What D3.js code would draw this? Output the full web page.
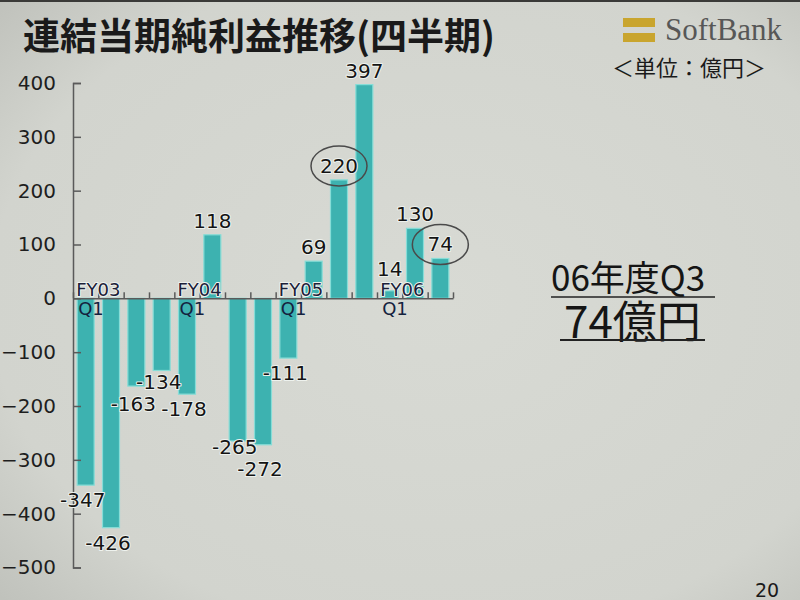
<!DOCTYPE html>
<html>
<head>
<meta charset="utf-8">
<script src="https://cdn.jsdelivr.net/npm/d3@7"></script>
<style>
  html, body { margin: 0; padding: 0; background: #d4d6d0; }
  svg { display: block; }
</style>
</head>
<body>
<svg id="chart" width="800" height="600"></svg>
<script>
// ---- data ----
const fiscalYears = ["FY03","FY03","FY03","FY03","FY04","FY04","FY04","FY04","FY05","FY05","FY05","FY05","FY06","FY06","FY06"];
const quarters    = ["Q1","Q2","Q3","Q4","Q1","Q2","Q3","Q4","Q1","Q2","Q3","Q4","Q1","Q2","Q3"];
const values      = [-347, -426, -163, -134, -178, 118, -265, -272, -111, 69, 220, 397, 14, 130, 74];
const circled     = ["FY05 Q3", "FY06 Q3"];
const yTicks      = [-500, -400, -300, -200, -100, 0, 100, 200, 300, 400];
const titleText   = "連結当期純利益推移(四半期)";
const unitText    = "＜単位：億円＞";
const brandText   = "SoftBank";
const noteLine1   = "06年度Q3";
const noteLine2   = "74億円";
const pageNumber  = "20";

const categories = fiscalYears.map((f, i) => f + " " + quarters[i]);
const data = categories.map((c, i) => ({ key: c, fy: fiscalYears[i], q: quarters[i], v: values[i] }));

const svg = d3.select("#chart");
const W = 800, H = 600;

// background with slight vignette
const defs = svg.append("defs");
const rg = defs.append("radialGradient").attr("id", "bg").attr("cx", "55%").attr("cy", "50%").attr("r", "75%");
rg.append("stop").attr("offset", "0%").attr("stop-color", "#d8dad4");
rg.append("stop").attr("offset", "75%").attr("stop-color", "#d2d4ce");
rg.append("stop").attr("offset", "100%").attr("stop-color", "#bfc1bb");
svg.append("rect").attr("width", W).attr("height", H).attr("fill", "url(#bg)");
svg.append("rect").attr("width", W).attr("height", 2).attr("fill", "#3a3a38");

// scales
const x = d3.scaleBand().domain(categories).range([73, 453]).paddingInner(0.33).paddingOuter(0.165);
const y = d3.scaleLinear().domain([-500, 400]).range([567.5, 83]);
const xIdx = d3.scaleLinear().domain([0, categories.length]).range([73, 453]);

const numFont = "'DejaVu Sans', sans-serif";
const jpFont = "'Noto Sans CJK JP', sans-serif";

// bars
svg.append("g").selectAll("rect").data(data).join("rect")
  .attr("x", d => x(d.key))
  .attr("width", x.bandwidth())
  .attr("y", d => Math.min(y(d.v), y(0)))
  .attr("height", d => Math.abs(y(d.v) - y(0)))
  .attr("fill", "#3db2b0")
  .attr("stroke", "#86ddd7")
  .attr("stroke-width", 1.2);

// y axis (ticks pointing right)
const yAxis = d3.axisLeft(y).tickValues(yTicks).tickSizeInner(-8).tickSizeOuter(-8).tickPadding(17).tickFormat(d3.format("d"));
const gy = svg.append("g").attr("transform", "translate(73,0)").call(yAxis);
gy.selectAll("path, line").attr("stroke", "#5a5a5a").attr("stroke-width", 1.5);
gy.selectAll("text").attr("font-family", numFont).attr("font-size", 20).attr("fill", "#1e1e1e");

// x axis line at zero with small upward ticks at category boundaries
const xAxis = d3.axisTop(xIdx).tickValues(d3.range(categories.length + 1)).tickSize(6).tickSizeOuter(0).tickFormat("");
const gx = svg.append("g").attr("transform", `translate(0,${y(0)})`).call(xAxis);
gx.selectAll("path, line").attr("stroke", "#5a5a5a").attr("stroke-width", 1.5);

// FY labels above the zero line and Q1 labels below it
const q1 = data.filter(d => d.q === "Q1");
const halo = sel => sel.attr("stroke", "#eef2ee").attr("stroke-width", 2).attr("paint-order", "stroke").attr("stroke-linejoin", "round");
svg.append("g").selectAll("text").data(q1).join("text")
  .attr("x", d => x(d.key) - 1)
  .attr("y", y(0) - 2)
  .attr("font-family", numFont).attr("font-size", 18).attr("fill", "#1b2038")
  .text(d => d.fy).call(halo);
svg.append("g").selectAll("text").data(q1).join("text")
  .attr("x", d => x(d.key) + 1)
  .attr("y", y(0) + 17)
  .attr("font-family", numFont).attr("font-size", 18).attr("fill", "#14223e")
  .text(d => d.q);

// value label placement: above positive bars, below negative bars,
// with a small relaxation so adjacent negative labels do not collide
const labelCenter = data.map(d => d.v >= 0 ? Math.min(y(d.v) - 14, y(0) - 29) : y(d.v) + 15);
const minGap = 22;
for (let iter = 0; iter < 10; iter++) {
  for (let i = 0; i < data.length - 1; i++) {
    if (data[i].v < 0 && data[i + 1].v < 0) {
      const a = labelCenter[i], b = labelCenter[i + 1];
      const diff = Math.abs(a - b);
      if (diff < minGap) {
        const push = (minGap - diff) / 2;
        if (a >= b) { labelCenter[i] += push; labelCenter[i + 1] -= push; }
        else { labelCenter[i] -= push; labelCenter[i + 1] += push; }
      }
    }
  }
}
const labelY = (d, i) => labelCenter[i] + 7;
const labelX = d => x(d.key) + x.bandwidth() / 2 + (d.v >= 0 ? 0 : -3);
svg.append("g").selectAll("text").data(data).join("text")
  .attr("x", labelX)
  .attr("y", labelY)
  .attr("text-anchor", "middle")
  .attr("font-family", numFont).attr("font-size", 20).attr("fill", "#141414")
  .text(d => d.v).call(halo);

// circled labels
svg.append("g").selectAll("ellipse").data(data.filter(d => circled.includes(d.key))).join("ellipse")
  .attr("cx", d => labelX(d))
  .attr("cy", d => labelCenter[categories.indexOf(d.key)])
  .attr("rx", 28).attr("ry", 20)
  .attr("fill", "none").attr("stroke", "#4a4a4a").attr("stroke-width", 1.5);

// title
svg.append("text").attr("x", 23).attr("y", 50)
  .attr("font-family", jpFont).attr("font-size", 37).attr("font-weight", "bold").attr("fill", "#1a1a1a")
  .text(titleText);

// SoftBank logo
svg.append("rect").attr("x", 623).attr("y", 18).attr("width", 32).attr("height", 9).attr("fill", "#c9a52e");
svg.append("rect").attr("x", 623).attr("y", 33).attr("width", 32).attr("height", 9).attr("fill", "#c9a52e");
svg.append("text").attr("x", 665).attr("y", 40)
  .attr("font-family", "'Liberation Serif', serif").attr("font-size", 31).attr("fill", "#575757")
  .text(brandText);
svg.append("text").attr("x", 612).attr("y", 76)
  .attr("font-family", jpFont).attr("font-size", 22).attr("fill", "#1a1a1a")
  .text(unitText);

// annotation
svg.append("text").attr("x", 551).attr("y", 291)
  .attr("font-family", jpFont).attr("font-size", 35).attr("fill", "#151515")
  .text(noteLine1);
svg.append("line").attr("x1", 551).attr("x2", 715).attr("y1", 297).attr("y2", 297).attr("stroke", "#222").attr("stroke-width", 1.5);
svg.append("text").attr("x", 564).attr("y", 338)
  .attr("font-family", jpFont).attr("font-size", 44).attr("fill", "#151515")
  .text(noteLine2);
svg.append("line").attr("x1", 560).attr("x2", 705).attr("y1", 340).attr("y2", 340).attr("stroke", "#222").attr("stroke-width", 2);

// page number
svg.append("text").attr("x", 755).attr("y", 597)
  .attr("font-family", numFont).attr("font-size", 19).attr("fill", "#1a1a1a")
  .text(pageNumber);
</script>
</body>
</html>
